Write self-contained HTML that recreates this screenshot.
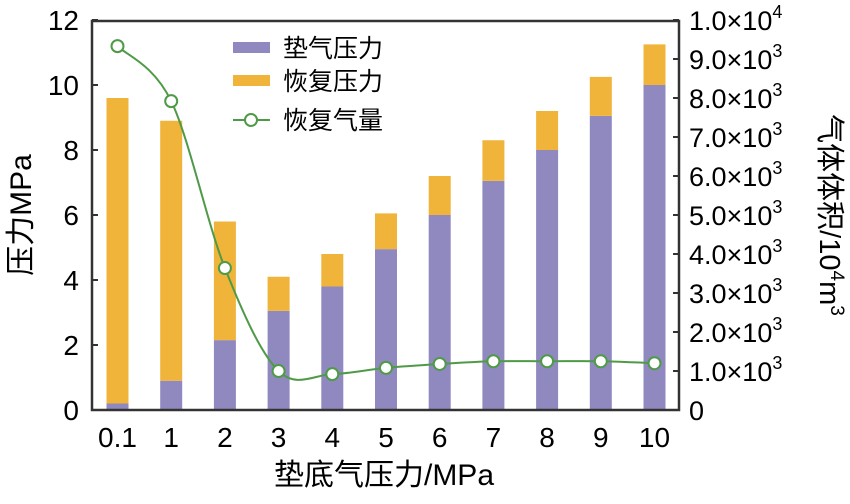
<!DOCTYPE html>
<html><head><meta charset="utf-8"><style>
html,body{margin:0;padding:0;background:#fff;}
svg text{font-family:"Liberation Sans","Noto Sans CJK SC",sans-serif;fill:#000;}
</style></head><body>
<svg id="chart" width="850" height="499" viewBox="0 0 850 499"></svg>
<script>
const categories=["0.1","1","2","3","4","5","6","7","8","9","10"];
const cushionPressure=[0.2,0.9,2.15,3.05,3.8,4.95,6.0,7.05,8.0,9.05,10.0];
const recoveryPressure=[9.4,8.0,3.65,1.05,1.0,1.1,1.2,1.25,1.2,1.2,1.25];
const recoveredVolume=[9330,7920,3640,1000,920,1080,1180,1250,1250,1250,1200];
const leftTicks=[0,2,4,6,8,10,12];
const rightTicks=[0,1000,2000,3000,4000,5000,6000,7000,8000,9000,10000];
const rightTickLabels=["0","1.0×10|3","2.0×10|3","3.0×10|3","4.0×10|3","5.0×10|3","6.0×10|3","7.0×10|3","8.0×10|3","9.0×10|3","1.0×10|4"];

const svg=document.getElementById('chart');
const NS="http://www.w3.org/2000/svg";
const L=92,R=679,T=21,B=410;
const yL=v=>410-v/12*390;
const yR=v=>410-v/10000*390;
const xC=i=>117.5+i*53.7;
const bw=22;
function mk(tag,attrs,parent){const e=document.createElementNS(NS,tag);for(const k in attrs)e.setAttribute(k,attrs[k]);(parent||svg).appendChild(e);return e;}

categories.forEach((c,i)=>{
  const p=mk('rect',{x:xC(i)-bw/2,y:yL(cushionPressure[i]),width:bw,height:yL(0)-yL(cushionPressure[i]),fill:'#8f89c0'});
  
  
  const top=cushionPressure[i]+recoveryPressure[i];
  const o=mk('rect',{x:xC(i)-bw/2,y:yL(top),width:bw,height:yL(cushionPressure[i])-yL(top),fill:'#f1b43a'});
  
  
});

const f=mk('path',{d:`M${L},${T}H${R}V${B}H${L}Z`,fill:'none',stroke:'#333','stroke-width':2.5});



leftTicks.forEach(v=>{
  mk('line',{x1:L,x2:L+6,y1:yL(v),y2:yL(v),stroke:'#333','stroke-width':2});
  const t=mk('text',{x:L-13,y:yL(v)+10,'text-anchor':'end','font-size':28});
  t.textContent=v;
  
  
});
rightTicks.forEach((v,i)=>{
  mk('line',{x1:R-6,x2:R,y1:yR(v),y2:yR(v),stroke:'#333','stroke-width':2});
  const parts=rightTickLabels[i].split('|');
  const t=mk('text',{x:R+10,y:yR(v)+10,'font-size':27});
  t.textContent=parts[0];
  if(parts[1]){const s=mk('tspan',{dy:-12,'font-size':18},t);s.textContent=parts[1];}
  
  
});
categories.forEach((c,i)=>{
  const t=mk('text',{x:xC(i),y:447,'text-anchor':'middle','font-size':28});
  t.textContent=c;
  
  
});

const pts=recoveredVolume.map((v,i)=>[xC(i),yR(v)]);
let d=`M${pts[0][0]},${pts[0][1]}`;
for(let i=0;i<pts.length-1;i++){
  const p0=pts[Math.max(0,i-1)],p1=pts[i],p2=pts[i+1],p3=pts[Math.min(pts.length-1,i+2)];
  const c1=[p1[0]+(p2[0]-p0[0])/6,p1[1]+(p2[1]-p0[1])/6];
  const c2=[p2[0]-(p3[0]-p1[0])/6,p2[1]-(p3[1]-p1[1])/6];
  d+=` C${c1[0]},${c1[1]} ${c2[0]},${c2[1]} ${p2[0]},${p2[1]}`;
}
const ln=mk('path',{d:d,fill:'none',stroke:'#4f9a47','stroke-width':2});


pts.forEach((p,i)=>{
  const c=mk('circle',{cx:p[0],cy:p[1],r:6,fill:'#fff',stroke:'#4f9a47','stroke-width':2});
  
  
});

const lg=mk('g',{});


mk('rect',{x:233,y:42,width:37,height:11,fill:'#8f89c0'},lg);
mk('rect',{x:233,y:75,width:37,height:11,fill:'#f1b43a'},lg);
mk('line',{x1:233,x2:270,y1:120,y2:120,stroke:'#4f9a47','stroke-width':2},lg);
mk('circle',{cx:251,cy:120,r:6,fill:'#fff',stroke:'#4f9a47','stroke-width':2},lg);
[["垫气压力",57],["恢复压力",90],["恢复气量",129]].forEach(a=>{const t=mk('text',{x:283,y:a[1],'font-size':25},lg);t.textContent=a[0];});

const yt=mk('text',{x:0,y:0,'font-size':30,'text-anchor':'middle',transform:'translate(31,215) rotate(-90)'});
yt.textContent='压力MPa';


const rt=mk('text',{x:0,y:0,'font-size':29,'text-anchor':'middle',transform:'translate(820,215) rotate(90)'});
rt.textContent='气体体积/10';
const s1=mk('tspan',{dy:-11,'font-size':19},rt);s1.textContent='4';
const s2=mk('tspan',{dy:11},rt);s2.textContent='m';
const s3=mk('tspan',{dy:-11,'font-size':19},rt);s3.textContent='3';


const xt=mk('text',{x:384,y:485,'font-size':30,'text-anchor':'middle'});
xt.textContent='垫底气压力/MPa';


</script>
</body></html>
